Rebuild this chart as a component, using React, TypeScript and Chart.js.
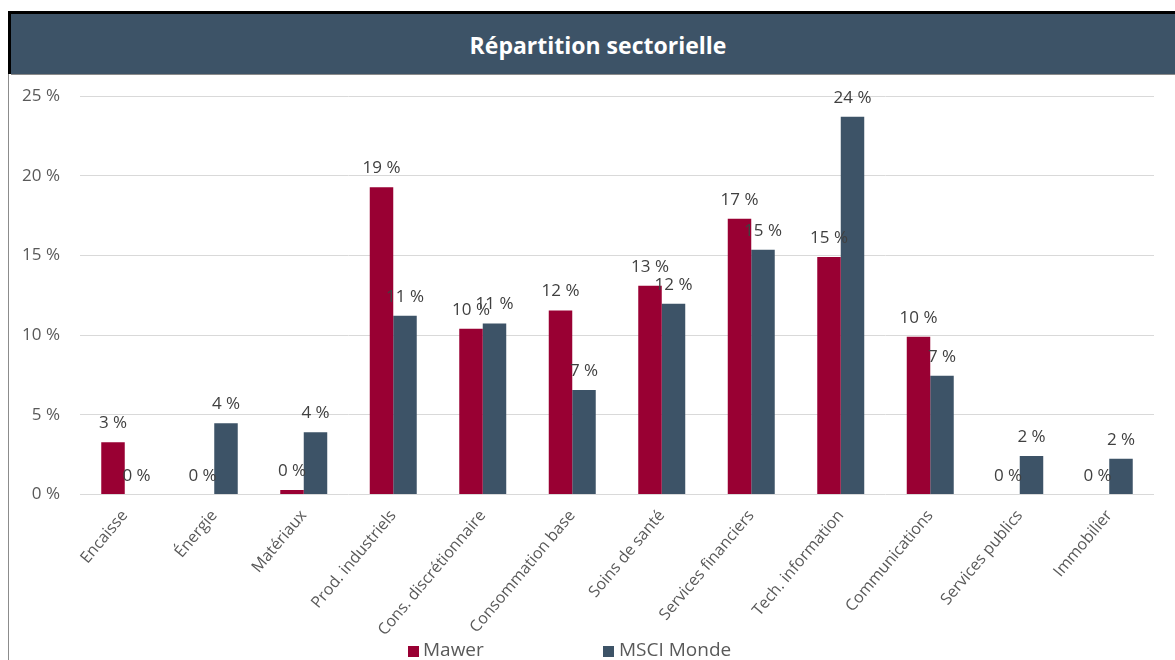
import React, { useEffect, useRef } from "react";
import { Chart, registerables } from "chart.js";

Chart.register(...registerables);

const categories = [
  "Encaisse",
  "Énergie",
  "Matériaux",
  "Prod. industriels",
  "Cons. discrétionnaire",
  "Consommation base",
  "Soins de santé",
  "Services financiers",
  "Tech. information",
  "Communications",
  "Services publics",
  "Immobilier",
];

const mawerValues = [3.28, 0, 0.28, 19.27, 10.4, 11.55, 13.1, 17.3, 14.9, 9.9, 0, 0];
const msciValues = [0, 4.47, 3.9, 11.21, 10.73, 6.55, 11.97, 15.36, 23.7, 7.45, 2.42, 2.25];

const seriesNames = ["Mawer", "MSCI Monde"];
const seriesColors = ["#990033", "#3D5367"];
const titleText = "Répartition sectorielle";

const FONT = "'Open Sans', 'DejaVu Sans', sans-serif";

const valueLabelPlugin = {
  id: "valueLabels",
  afterDatasetsDraw(chart: any) {
    const ctx = chart.ctx;
    ctx.save();
    ctx.font = `17px ${FONT}`;
    ctx.fillStyle = "#404040";
    ctx.textAlign = "center";
    ctx.textBaseline = "alphabetic";
    chart.data.datasets.forEach((ds: any, di: number) => {
      const meta = chart.getDatasetMeta(di);
      meta.data.forEach((bar: any, i: number) => {
        const v = ds.data[i] as number;
        ctx.fillText(`${Math.round(v)} %`, bar.x, bar.y - 14);
      });
    });
    ctx.restore();
  },
};

export default function App() {
  const canvasRef = useRef<HTMLCanvasElement | null>(null);

  useEffect(() => {
    const canvas = canvasRef.current;
    if (!canvas) return;
    const chart = new Chart(canvas, {
      type: "bar",
      data: {
        labels: categories,
        datasets: [
          {
            label: seriesNames[0],
            data: mawerValues,
            backgroundColor: seriesColors[0],
            borderWidth: 0,
            categoryPercentage: 0.525,
            barPercentage: 1,
          },
          {
            label: seriesNames[1],
            data: msciValues,
            backgroundColor: seriesColors[1],
            borderWidth: 0,
            categoryPercentage: 0.525,
            barPercentage: 1,
          },
        ],
      },
      options: {
        responsive: false,
        animation: false,
        devicePixelRatio: 1,
        layout: { padding: { left: 10, top: 96, right: 21, bottom: 0 } },
        plugins: {
          legend: { display: false },
          title: { display: false },
          tooltip: { enabled: false },
        },
        scales: {
          x: {
            grid: { display: false },
            border: { display: false },
            ticks: {
              minRotation: 50,
              maxRotation: 50,
              autoSkip: false,
              color: "#595959",
              font: { family: FONT, size: 16 },
              padding: 4,
            },
            afterFit(scale: any) {
              scale.height = 165.5;
            },
          },
          y: {
            min: 0,
            max: 25,
            grid: { color: "#D9D9D9", lineWidth: 1, drawTicks: false },
            border: { display: false },
            ticks: {
              stepSize: 5,
              color: "#595959",
              font: { family: FONT, size: 17 },
              padding: 20,
              callback: (v: any) => `${v} %`,
            },
            afterFit(scale: any) {
              scale.width = 70;
            },
          },
        },
      },
      plugins: [valueLabelPlugin],
    });
    return () => chart.destroy();
  }, []);

  return (
    <div style={{ position: "absolute", left: 0, top: 0, width: 1175, height: 660, overflow: "hidden", background: "#fff", fontFamily: FONT }}>
      <canvas ref={canvasRef} width={1175} height={660} style={{ position: "absolute", left: 0, top: 0, width: 1175, height: 660 }} />
      {/* left border */}
      <div style={{ position: "absolute", left: 8, top: 74, width: 1, height: 586, background: "#8c8c8c" }} />
      {/* header */}
      <div style={{ position: "absolute", left: 8, top: 11, width: 1175, height: 3, background: "#000" }} />
      <div style={{ position: "absolute", left: 8, top: 11, width: 3, height: 63, background: "#000" }} />
      <div
        style={{
          position: "absolute",
          left: 11,
          top: 14,
          width: 1175,
          height: 60,
          background: "#3D5367",
          borderBottom: "1px solid #8a8a8a",
        }}
      />
      <div
        style={{
          position: "absolute",
          left: 398,
          top: 15,
          width: 400,
          height: 60,
          lineHeight: "60px",
          textAlign: "center",
          color: "#fff",
          fontWeight: 700,
          fontSize: 23,
        }}
      >
        {titleText}
      </div>
      {/* legend */}
      <div style={{ position: "absolute", left: 408, top: 646, width: 11, height: 11, background: seriesColors[0] }} />
      <div style={{ position: "absolute", left: 423, top: 636, fontSize: 19, lineHeight: "26px", color: "#595959" }}>{seriesNames[0]}</div>
      <div style={{ position: "absolute", left: 603, top: 646, width: 11, height: 11, background: seriesColors[1] }} />
      <div style={{ position: "absolute", left: 619, top: 636, fontSize: 19, lineHeight: "26px", color: "#595959" }}>{seriesNames[1]}</div>
    </div>
  );
}
